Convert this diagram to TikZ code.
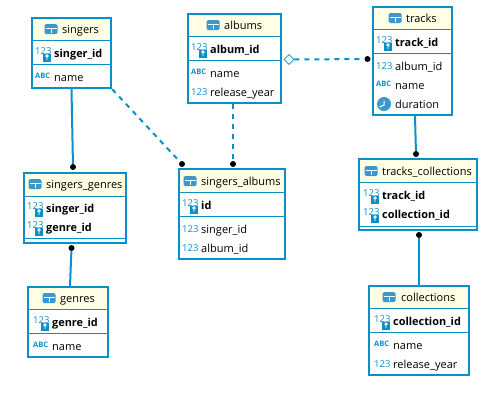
\documentclass[tikz,border=0pt]{standalone}
\usepackage{fontspec}
\setmainfont{Open Sans}
\usetikzlibrary{fit}
\usetikzlibrary{shapes.geometric}
\definecolor{erblue}{HTML}{0A8FC8}
\definecolor{iconblue}{HTML}{3A98CF}
\definecolor{headfill}{HTML}{FFFDE3}
\tikzset{
	tablebox/.style={draw=erblue,line width=2.4pt,inner sep=0pt},
	sepline/.style={draw=erblue,line width=1pt},
	rowtext/.style={inner sep=0pt,anchor=base west,font=\fontsize{11}{13}\selectfont},
	titletext/.style={inner sep=0pt,anchor=base west,font=\fontsize{11}{13}\selectfont},
	keytext/.style={rowtext,font=\fontsize{10.9}{13}\selectfont\bfseries},
	tableicon/.pic={
		\fill[iconblue,rounded corners=1.5pt] (-6.5,-5) rectangle (6.5,5);
		\fill[white] (-5.5,-0.8) rectangle (5.5,0);
		\fill[white] (-0.4,-0.8) rectangle (0.4,4.2);
	},
	numicon/.pic={
		\node[inner sep=0pt,anchor=west,text=erblue,font=\fontsize{9.5}{13}\selectfont] at (0,0) {123};
	},
	abcicon/.pic={
		\node[inner sep=0pt,anchor=west,text=erblue,font=\fontsize{7.5}{9}\selectfont\bfseries] at (0,-1) {ABC};
	},
	keyicon/.pic={
		\node[inner sep=0pt,anchor=west,text=erblue,font=\fontsize{9.5}{13}\selectfont] at (0,-2) {123};
		\fill[erblue] (8,0.5) rectangle (16,8.5);
		\draw[white,line width=0.8pt] (12,3) circle (1.2) (12,4.2) -- (12,7);
	},
	clockicon/.pic={
		\fill[iconblue] (8,0) circle (7);
		\draw[white,line width=1pt] (8,-3.5) -- (8,1) -- (3.5,3);
	}
}

\begin{document}
\begin{tikzpicture}[x=1pt,y=-1pt]
	\useasboundingbox (0,0) rectangle (494,400);
	% tables
	\foreach \nm/\xa/\xb/\ya/\yh/\ys/\yb in {
		singers/32/111/18/40/64/88,
		albums/188/281/14/36/60/103,
		tracks/373/452/7/29/53/115,
		singers_albums/179/285/169/192/216/259,
		singers_genres/24/126/173/196/238/243,
		tracks_collections/359/477/159/182/226/230,
		genres/28/108/287/309/333/357,
		collections/369/469/286/308/332/375}{
		\fill[headfill] (\xa,\ya) rectangle (\xb,\yh);
		\node[tablebox,fit={(\xa,\ya) (\xb,\yb)}] (\nm) {};
		\draw[sepline] (\xa,\yh) -- (\xb,\yh);
		\draw[sepline] (\xa,\ys) -- (\xb,\ys);
	}
	% titles
	\foreach \nm/\ix/\tx/\y/\txt in {
		singers/51/62/29/singers,
		albums/213/224/25/albums,
		tracks/395/406/18/tracks,
		singers_albums/190/201/181/singers\_albums,
		singers_genres/35/46/184/singers\_genres,
		tracks_collections/371/382/171/tracks\_collections,
		genres/49/60/298/genres,
		collections/389/401/297/collections}{
		\pic at (\ix,\y) {tableicon};
		\node[titletext] (\nm_title) at (\tx,\y+4) {\txt};
	}
	% key columns
	\foreach \nm/\x/\y/\txt in {
		singer_id/54/53/singer\_id,
		album_id/210/49/album\_id,
		track_id/395/42/track\_id,
		sa_id/201/205/id,
		sg_singer/46/208/singer\_id,
		sg_genre/46/227/genre\_id,
		tc_track/382/195/track\_id,
		tc_coll/382/214/collection\_id,
		genre_id/52/322/genre\_id,
		collection_id/393/321/collection\_id}{
		\pic at (\x-19,\y) {keyicon};
		\node[keytext] (\nm) at (\x,\y+4) {\txt};
	}
	% other columns
	\foreach \nm/\ic/\x/\y/\txt in {
		singers_name/abcicon/54/77/name,
		albums_name/abcicon/210/73/name,
		albums_year/numicon/210/92/release\_year,
		tracks_album/numicon/395/66/album\_id,
		tracks_name/abcicon/395/85/name,
		tracks_time/clockicon/395/104/duration,
		sa_singer/numicon/201/229/singer\_id,
		sa_album/numicon/201/248/album\_id,
		genres_name/abcicon/52/346/name,
		coll_name/abcicon/393/345/name,
		coll_year/numicon/393/364/release\_year}{
		\pic at (\x-19,\y) {\ic};
		\node[rowtext] (\nm) at (\x,\y+4) {\txt};
	}
	% connector ends
	\begin{scope}[every node/.style={circle,fill=black,inner sep=0pt,minimum size=6pt}]
		\node (sg_top) at (73,167) {};
		\node (sg_bottom) at (71.5,248) {};
		\node (sa_left) at (182,164) {};
		\node (sa_right) at (233,164) {};
		\node (tracks_dot) at (367.5,59) {};
		\node (tc_top) at (416,154) {};
		\node (tc_bottom) at (419,235) {};
	\end{scope}
	\node[diamond,draw=erblue,fill=white,line width=0.8pt,inner sep=0pt,minimum size=10pt] (albums_link) at (289,59.5) {};
	% connectors
	\begin{scope}[every edge/.style={draw=erblue,line width=2pt}]
		\path (singers.south) edge (sg_top);
		\path (sg_bottom) edge ([xshift=2pt]genres.north);
		\path ([xshift=2.5pt]tracks.south) edge (tc_top);
		\path (tc_bottom) edge (collections.north);
		\path [dash pattern=on 5pt off 5pt] (singers.south east) edge (sa_left);
		\path [dash pattern=on 5pt off 5pt] (albums.south -| sa_right) edge (sa_right);
		\path [dash pattern=on 5pt off 5pt] (albums_link) edge (tracks_dot);
	\end{scope}
\end{tikzpicture}
\end{document}
